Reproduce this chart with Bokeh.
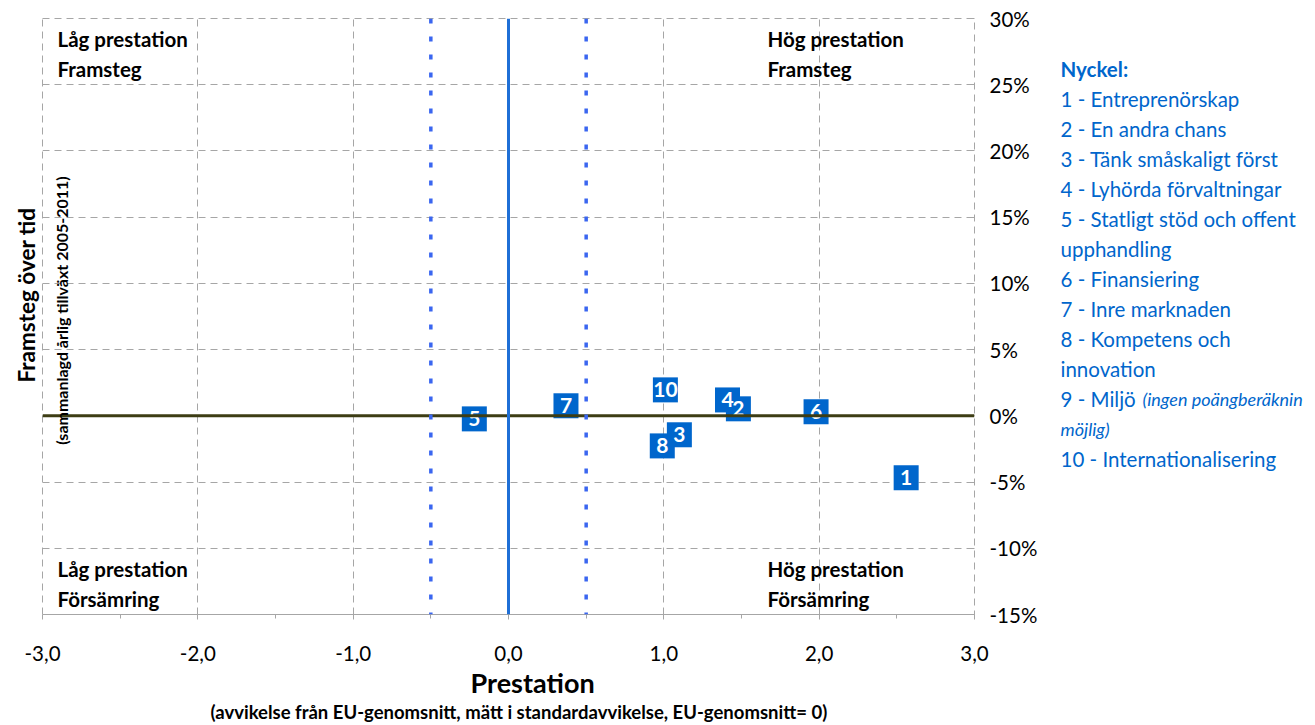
from bokeh.plotting import figure
from bokeh.layouts import row
from bokeh.models import FixedTicker, Span, Label, ColumnDataSource, Title, Range1d
from bokeh.core.properties import value
from bokeh.embed import file_html
from bokeh.resources import INLINE

# ---------------- data ----------------
point_labels = ["1", "2", "3", "4", "5", "6", "7", "8", "10"]
prestation = [2.56, 1.48, 1.10, 1.41, -0.22, 1.98, 0.37, 0.99, 1.01]
framsteg = [-4.68, 0.53, -1.43, 1.20, -0.23, 0.30, 0.76, -2.27, 1.96]

x_ticks = [-3, -2, -1, 0, 1, 2, 3]
x_tick_labels = ["-3,0", "-2,0", "-1,0", "0,0", "1,0", "2,0", "3,0"]
x_minor_ticks = [-2.5, -1.5, -0.5, 0.5, 1.5, 2.5]
y_ticks = [-15, -10, -5, 0, 5, 10, 15, 20, 25, 30]
y_tick_labels = ["-15%", "-10%", "-5%", "0%", "5%", "10%", "15%", "20%", "25%", "30%"]

legend_title = "Nyckel:"
legend_items = [
    "1 - Entreprenörskap",
    "2 - En andra chans",
    "3 - Tänk småskaligt först",
    "4 - Lyhörda förvaltningar",
    "5 - Statligt stöd och offent",
    "upphandling",
    "6 -  Finansiering",
    "7 - Inre marknaden",
    "8 - Kompetens och",
    "innovation",
    "9 - Miljö",
]
legend_note = ["(ingen poängberäknin", "möjlig)"]
legend_last = "10 - Internationalisering"

# ---------------- geometry ----------------
H = 725
W1, W2 = 1050, 265
FL, FT, FR, FB = 42, 18, 974, 614  # frame edges in canvas px
X0, X1, Y0, Y1 = -3.0, 3.0, -15.0, 30.0


def dx(px):  # canvas px -> data x
    return X0 + (px - FL) * (X1 - X0) / (FR - FL)


def dy(py):  # canvas px -> data y
    return Y1 - (py - FT) * (Y1 - Y0) / (FB - FT)


FONT = "Lato"
BLUE = "#0066cc"
GRID = "#a6a6a6"

p = figure(width=W1, height=H, x_range=(X0, X1), y_range=(Y0, Y1),
           y_axis_location="right", output_backend="svg", toolbar_location=None,
           min_border_left=FL, min_border_top=FT, min_border_right=W1 - FR,
           min_border_bottom=H - FB)
p.background_fill_color = "white"
p.border_fill_color = "white"
p.outline_line_color = GRID
p.outline_line_dash = "7 5"
p.outline_line_width = 1

# grid
for g in (p.xgrid, p.ygrid):
    g.grid_line_color = GRID
    g.grid_line_dash = "7 5"
    g.grid_line_width = 1
p.xgrid.ticker = FixedTicker(ticks=x_ticks)
p.ygrid.ticker = FixedTicker(ticks=y_ticks)

# x axis
xa = p.xaxis[0]
xa.ticker = FixedTicker(ticks=x_ticks, minor_ticks=x_minor_ticks)
xa.major_label_overrides = {t: l for t, l in zip(x_ticks, x_tick_labels)}
xa.axis_line_color = GRID
xa.major_tick_line_color = GRID
xa.minor_tick_line_color = GRID
xa.major_tick_out = 5
xa.major_tick_in = 0
xa.minor_tick_out = 4
xa.minor_tick_in = 0
xa.major_label_text_font = FONT
xa.major_label_text_font_size = "20.5px"
xa.major_label_text_color = "black"
xa.major_label_standoff = 26

p.add_layout(Title(text="Prestation", align="left", offset=470 - FL, text_font=FONT,
                   text_font_style="bold", text_font_size="27px", text_color="black",
                   standoff=0), "below")
p.add_layout(Title(text="(avvikelse från EU-genomsnitt, mätt i standardavvikelse, EU-genomsnitt= 0)",
                   align="left", offset=210 - FL, text_font=FONT, text_font_style="bold",
                   text_font_size="18.5px", text_color="black", standoff=0), "below")

# y axis (right)
ya = p.yaxis[0]
ya.ticker = FixedTicker(ticks=y_ticks)
ya.major_label_overrides = {t: l for t, l in zip(y_ticks, y_tick_labels)}
ya.axis_line_color = None
ya.major_tick_line_color = GRID
ya.major_tick_in = 6
ya.major_tick_out = 0
ya.minor_tick_line_color = None
ya.major_label_text_font = FONT
ya.major_label_text_font_size = "20.5px"
ya.major_label_text_color = "black"
ya.major_label_standoff = 15
ya.major_label_text_align = "left"

# left title
p.add_layout(Title(text="Framsteg över tid", align="left", offset=FB - 382, text_font=FONT,
                   text_font_style="bold", text_font_size="22.5px", text_color="black",
                   standoff=6), "left")

# reference lines
p.add_layout(Span(location=0, dimension="width", line_color="#3d3d14", line_width=3))
p.add_layout(Span(location=0, dimension="height", line_color="#1f6fd6", line_width=3))
for loc in (-0.5, 0.5):
    p.add_layout(Span(location=loc, dimension="height", line_color="#3a66f0",
                      line_width=3.5, line_dash="5 13"))

# points
src = ColumnDataSource(dict(x=prestation, y=framsteg, t=point_labels))
p.scatter("x", "y", source=src, marker="square", size=25, fill_color=BLUE,
          line_color=None)
p.text("x", "y", text="t", source=src, text_align="center", text_baseline="middle",
       text_color="white", text_font=value(FONT), text_font_style="bold",
       text_font_size="21px")

# quadrant labels
quad = [
    (57, 38, "Låg prestation"), (57, 68, "Framsteg"),
    (767, 38, "Hög prestation"), (767, 68, "Framsteg"),
    (57, 568, "Låg prestation"), (57, 598, "Försämring"),
    (767, 568, "Hög prestation"), (767, 598, "Försämring"),
]
for px, py, t in quad:
    p.add_layout(Label(x=dx(px), y=dy(py), text=t, text_font=FONT, text_font_style="bold",
                       text_font_size="20.5px", text_color="black",
                       text_align="left", text_baseline="middle"))

p.add_layout(Label(x=dx(61), y=dy(310), text="(sammanlagd årlig tillväxt 2005-2011)",
                   angle=1.5708, text_font=FONT, text_font_style="bold",
                   text_font_size="16px", text_align="center", text_baseline="middle",
                   text_color="black"))

# ---------------- legend ("Nyckel") panel ----------------
q = figure(width=W2, height=H, x_range=Range1d(0, W2), y_range=Range1d(FB, FT),
           output_backend="svg", toolbar_location=None, min_border_left=0,
           min_border_right=0, min_border_top=FT, min_border_bottom=H - FB)
q.axis.visible = False
q.grid.visible = False
q.outline_line_color = None
q.background_fill_color = "white"
q.border_fill_color = "white"

LX = 1060 - W1
LEG = "20.5px"
q.add_layout(Label(x=LX, y=68, text=legend_title, text_font=FONT, text_font_style="bold",
                   text_font_size="20.5px", text_color=BLUE, text_align="left",
                   text_baseline="middle"))
py = 98
for t in legend_items:
    q.add_layout(Label(x=LX, y=py, text=t, text_font=FONT, text_font_size=LEG,
                       text_color=BLUE, text_align="left", text_baseline="middle"))
    py += 30
q.add_layout(Label(x=1142 - W1, y=398, text=legend_note[0], text_font=FONT,
                   text_font_style="italic", text_font_size="18px", text_color=BLUE,
                   text_align="left", text_baseline="middle"))
q.add_layout(Label(x=LX, y=428, text=legend_note[1], text_font=FONT,
                   text_font_style="italic", text_font_size="18px", text_color=BLUE,
                   text_align="left", text_baseline="middle"))
q.add_layout(Label(x=LX, y=458, text=legend_last, text_font=FONT, text_font_size=LEG,
                   text_color=BLUE, text_align="left", text_baseline="middle"))

layout = row(p, q, spacing=0)
open("out.html", "w").write(file_html(layout, INLINE))
